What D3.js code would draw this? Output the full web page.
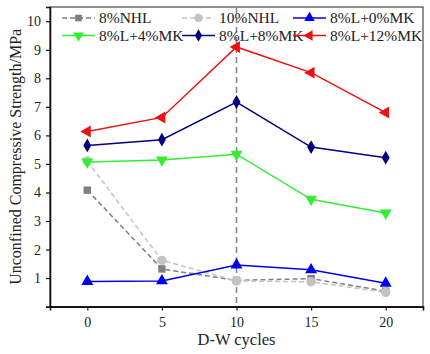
<!DOCTYPE html>
<html><head><meta charset="utf-8">
<script src="https://cdn.jsdelivr.net/npm/d3@7"></script>
<style>body{margin:0;background:#fff}svg{display:block}</style>
</head><body><svg id="c" width="430" height="354"></svg>
<script>
const cycles = [0, 5, 10, 15, 20];
const nhl8 = [4.08, 1.32, 0.92, 0.98, 0.54];
const nhl10 = [5.1, 1.62, 0.9, 0.87, 0.5];
const mk0 = [0.88, 0.9, 1.46, 1.29, 0.82];
const mk4 = [5.07, 5.14, 5.34, 3.76, 3.28];
const mk8 = [5.65, 5.85, 7.17, 5.59, 5.22];
const mk12 = [6.14, 6.63, 9.1, 8.2, 6.8];
const seriesNames = ["8%NHL", "10%NHL", "8%L+0%MK", "8%L+4%MK", "8%L+8%MK", "8%L+12%MK"];
const yTicks = [1,2,3,4,5,6,7,8,9,10];
const xTicks = [0,5,10,15,20];

const FONT = "'Liberation Serif', 'Times New Roman', serif";

const series = [
  {name: seriesNames[0], v: nhl8, color: "#7f7f7f", dash: "5,3", marker: "square"},
  {name: seriesNames[1], v: nhl10, color: "#c3c3c3", dash: "5,3", marker: "circle"},
  {name: seriesNames[2], v: mk0, color: "#0000f0", dash: null, marker: "tri"},
  {name: seriesNames[3], v: mk4, color: "#33ee33", dash: null, marker: "tridown"},
  {name: seriesNames[4], v: mk8, color: "#000080", dash: null, marker: "diamond"},
  {name: seriesNames[5], v: mk12, color: "#ee1111", dash: null, marker: "trileft"}
];

const svg = d3.select("#c");
const L = 50, R = 423, T = 7, B = 306.6;
const x = d3.scaleLinear().domain([-2.5, 22.5]).range([L, R]);
const y = d3.scaleLinear().domain([0, 10.5]).range([B, T]);

svg.append("rect").attr("x", L).attr("y", T).attr("width", R-L).attr("height", B-T)
  .attr("fill","none").attr("stroke","#222").attr("stroke-width",1);

svg.append("line").attr("x1", x(10)).attr("x2", x(10)).attr("y1", T).attr("y2", B)
  .attr("stroke","#888").attr("stroke-width",1.6).attr("stroke-dasharray","6,4");

const xa = svg.append("g").attr("transform",`translate(0,${B})`)
  .call(d3.axisBottom(x).tickValues(xTicks).tickSize(4).tickPadding(6));
const ya = svg.append("g").attr("transform",`translate(${L},0)`)
  .call(d3.axisLeft(y).tickValues(yTicks).tickSize(4).tickPadding(5));
[xa, ya].forEach(a => {
  a.attr("font-family", null);
  a.select(".domain").attr("stroke","#111").attr("stroke-width",1.6);
  a.selectAll(".tick line").attr("stroke","#111").attr("stroke-width",1.2);
  a.selectAll("text").style("font-family", FONT).style("font-size","14px").attr("fill","#222");
});

function sym(type, size) {
  if (type === "square") return d3.symbol(d3.symbolSquare, size)();
  if (type === "circle") return d3.symbol(d3.symbolCircle, size)();
  if (type === "diamond") return d3.symbol(d3.symbolDiamond, size)();
  return d3.symbol(d3.symbolTriangle, size)();
}
function rot(type) {
  if (type === "tridown") return 180;
  if (type === "trileft") return -90;
  return 0;
}
function markerSize(type) {
  if (type === "square") return 55;
  if (type === "circle") return 70;
  if (type === "diamond") return 55;
  return 62;
}

const line = d3.line().x((d,i) => x(cycles[i])).y(d => y(d));
series.forEach(s => {
  svg.append("path").attr("d", line(s.v)).attr("fill","none")
    .attr("stroke", s.color).attr("stroke-width", 1.5)
    .attr("stroke-dasharray", s.dash);
});
series.forEach(s => {
  svg.append("g").selectAll("path").data(s.v).join("path")
    .attr("d", sym(s.marker, markerSize(s.marker)))
    .attr("transform", (d,i) => `translate(${x(cycles[i])},${y(d)}) rotate(${rot(s.marker)})`)
    .attr("fill", s.color);
});

const legX = [62, 182, 293];
const legY = [18, 35.5];
series.forEach((s, i) => {
  const col = i % 3, row = Math.floor(i / 3);
  const lx = legX[col], ly = legY[row];
  const g = svg.append("g");
  g.append("line").attr("x1", lx).attr("x2", lx+33).attr("y1", ly).attr("y2", ly)
    .attr("stroke", s.color).attr("stroke-width", 1.5).attr("stroke-dasharray", s.dash);
  g.append("path").attr("d", sym(s.marker, markerSize(s.marker)*0.8))
    .attr("transform", `translate(${lx+16.5},${ly}) rotate(${rot(s.marker)})`).attr("fill", s.color);
  g.append("text").attr("x", lx+37).attr("y", ly+5).style("font-family", FONT).style("font-size","15.5px")
    .attr("fill","#222").text(s.name);
});

svg.append("text").attr("x", (L+R)/2).attr("y", 345).attr("text-anchor","middle")
  .style("font-family", FONT).style("font-size","16.5px").attr("fill","#222").text("D-W cycles");
svg.append("text").attr("transform", `translate(21,${(T+B)/2}) rotate(-90)`)
  .attr("text-anchor","middle").style("font-family", FONT).style("font-size","16px").attr("fill","#222")
  .text("Unconfined Compressive Strength/MPa");
</script></body></html>
